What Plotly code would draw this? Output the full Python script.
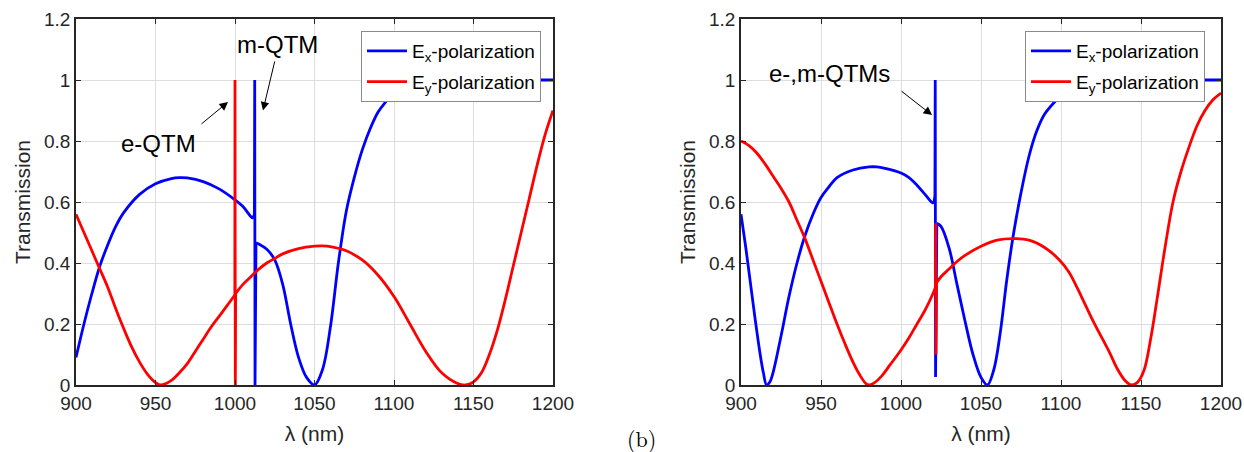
import plotly.graph_objects as go

# ---------------- data ----------------
# Panel (a) - left
a_ex_wl = [900, 905, 910, 915, 920, 925, 930, 940, 950, 960, 965, 970, 980, 990, 1000, 1005, 1010, 1011,
           1012.2, 1012.4, 1012.6, 1013.2, 1015, 1020, 1025, 1030, 1035, 1040, 1045, 1050, 1055, 1060, 1065,
           1070, 1075, 1080, 1085, 1090, 1095, 1100, 1105, 1110, 1120, 1140, 1170, 1200]
a_ex_t = [0.09, 0.20, 0.30, 0.39, 0.46, 0.52, 0.565, 0.625, 0.66, 0.677, 0.68, 0.679, 0.667, 0.643, 0.607, 0.585,
          0.552, 0.548, 0.56, 1.0, 0.0, 0.466, 0.462, 0.445, 0.41, 0.33, 0.20, 0.09, 0.025, 0.0, 0.05, 0.19, 0.40,
          0.57, 0.68, 0.77, 0.84, 0.895, 0.93, 0.96, 0.98, 0.99, 1.0, 1.0, 1.0, 1.0]

a_ey_wl = [900, 905, 910, 915, 920, 925, 930, 935, 940, 945, 950, 953, 957, 960, 965, 970, 975, 980, 985, 990,
           995, 999.9, 1000, 1000.2, 1000.4, 1005, 1010, 1015, 1020, 1025, 1030, 1040, 1050, 1055, 1060, 1070,
           1080, 1090, 1100, 1110, 1120, 1130, 1140, 1145, 1150, 1155, 1160, 1165, 1170, 1175, 1180, 1185, 1190,
           1195, 1200]
a_ey_t = [0.56, 0.50, 0.44, 0.38, 0.32, 0.25, 0.185, 0.125, 0.075, 0.035, 0.008, 0.0, 0.006, 0.015, 0.04, 0.07,
          0.11, 0.15, 0.19, 0.225, 0.26, 0.295, 1.0, 0.0, 0.30, 0.33, 0.355, 0.38, 0.40, 0.415, 0.43, 0.447, 0.455,
          0.456, 0.454, 0.44, 0.41, 0.36, 0.29, 0.20, 0.11, 0.04, 0.005, 0.0, 0.01, 0.04, 0.10, 0.18, 0.28, 0.39,
          0.50, 0.61, 0.72, 0.82, 0.90]

# Panel (b) - right
b_ex_wl = [900, 903, 906, 909, 912, 914, 916, 918, 920, 925, 930, 935, 940, 945, 950, 955, 960, 970, 980, 985,
           990, 1000, 1005, 1010, 1015, 1019, 1020, 1021.2, 1021.4, 1021.6, 1022.4, 1025, 1030, 1035, 1040,
           1045, 1050, 1054, 1058, 1062, 1066, 1070, 1075, 1080, 1085, 1090, 1100, 1105, 1110, 1120, 1140,
           1170, 1200]
b_ex_t = [0.56, 0.45, 0.33, 0.21, 0.10, 0.04, 0.0, 0.01, 0.04, 0.16, 0.29, 0.40, 0.49, 0.56, 0.615, 0.65, 0.68,
          0.705, 0.715, 0.715, 0.71, 0.695, 0.68, 0.655, 0.625, 0.60, 0.597, 0.62, 1.0, 0.026, 0.53, 0.52, 0.45,
          0.33, 0.21, 0.10, 0.025, 0.0, 0.05, 0.17, 0.34, 0.485, 0.63, 0.75, 0.835, 0.89, 0.95, 0.975,
          0.99, 1.0, 1.0, 1.0, 1.0]

b_ey_wl = [900, 905, 910, 915, 920, 925, 930, 935, 940, 945, 950, 955, 960, 965, 970, 974, 978, 980, 983, 988,
           993, 1000, 1005, 1010, 1015, 1020, 1021.5, 1021.7, 1021.9, 1022.2, 1025, 1030, 1035, 1040, 1050, 1060,
           1070, 1080, 1090, 1099, 1105, 1110, 1115, 1120, 1130, 1135, 1140, 1144, 1148, 1152, 1156, 1160, 1165,
           1170, 1175, 1180, 1185, 1190, 1195, 1200]
b_ey_t = [0.80, 0.785, 0.76, 0.725, 0.685, 0.645, 0.60, 0.54, 0.48, 0.41, 0.34, 0.27, 0.20, 0.135, 0.075, 0.035,
          0.005, 0.0, 0.006, 0.03, 0.065, 0.115, 0.155, 0.2, 0.245, 0.30, 0.32, 0.53, 0.1, 0.335, 0.355, 0.38,
          0.405, 0.425, 0.455, 0.475, 0.48, 0.475, 0.45, 0.41, 0.37, 0.32, 0.265, 0.21, 0.11, 0.055, 0.015, 0.0,
          0.01, 0.05, 0.15, 0.28, 0.45, 0.6, 0.7, 0.78, 0.85, 0.9, 0.935, 0.957]

x_ticks = [900, 950, 1000, 1050, 1100, 1150, 1200]
y_ticks = [0, 0.2, 0.4, 0.6, 0.8, 1.0, 1.2]
y_tick_text = ["0", "0.2", "0.4", "0.6", "0.8", "1", "1.2"]
series_names = ["E<sub>x</sub>-polarization", "E<sub>y</sub>-polarization"]
series_colors = ["#0000ff", "#ff0000"]

# ---------------- figure ----------------
W, H = 1244, 452
FONT = "Liberation Sans, Arial, Helvetica, sans-serif"
AX = "#262626"
LW = 2.8


def split_runs(wl, t, gap=1.0):
    """Split a series into smooth parts and the narrow resonance spike (closely spaced samples)."""
    n = len(wl)
    sharp = [False] * n
    for i in range(n - 1):
        if wl[i + 1] - wl[i] < gap:
            sharp[i] = sharp[i + 1] = True
    idx = [i for i in range(n) if sharp[i]]
    if not idx:
        return [(wl, t, "spline")]
    i0, i1 = idx[0], idx[-1]
    return [(wl[:i0 + 1], t[:i0 + 1], "spline"),
            (wl[i0:i1 + 1], t[i0:i1 + 1], "linear"),
            (wl[i1:], t[i1:], "spline")]


fig = go.Figure()


def add_series(wl, t, k, xa, ya, leg):
    for j, (xs, ys, shape) in enumerate(split_runs(wl, t)):
        fig.add_trace(go.Scatter(
            x=xs, y=ys, mode="lines", name=series_names[k], legendgroup=f"{leg}{k}",
            showlegend=(j == 0), line=dict(color=series_colors[k], width=LW, shape=shape, smoothing=1.0),
            xaxis=xa, yaxis=ya, legend=leg, hoverinfo="skip"))


add_series(a_ex_wl, a_ex_t, 0, "x", "y", "legend")
add_series(b_ex_wl, b_ex_t, 0, "x2", "y2", "legend2")
add_series(a_ey_wl, a_ey_t, 1, "x", "y", "legend")
add_series(b_ey_wl, b_ey_t, 1, "x2", "y2", "legend2")

ybot, ytop = 1 - 385 / H, 1 - 19 / H


def xax(domain, anchor):
    return dict(domain=domain, anchor=anchor, range=[900, 1200], tickvals=x_ticks, automargin=False,
                ticks="inside", ticklen=5, tickcolor=AX, showline=True, linecolor=AX, linewidth=1.5,
                mirror="ticks", showgrid=True, gridcolor="#dedede", gridwidth=1, zeroline=False,
                tickfont=dict(family=FONT, size=19, color=AX),
                title=dict(text="λ (nm)", font=dict(family=FONT, size=21, color=AX), standoff=14))


def yax(anchor):
    return dict(domain=[ybot, ytop], anchor=anchor, range=[0, 1.2], tickvals=y_ticks, ticktext=y_tick_text,
                automargin=False,
                ticks="inside", ticklen=5, tickcolor=AX, showline=True, linecolor=AX, linewidth=1.5,
                mirror="ticks", showgrid=True, gridcolor="#dedede", gridwidth=1, zeroline=False,
                tickfont=dict(family=FONT, size=19, color=AX),
                title=dict(text="Transmission", font=dict(family=FONT, size=21, color=AX), standoff=8))


def legend(xleft):
    return dict(x=xleft, y=1 - 31 / H, xanchor="left", yanchor="top", bgcolor="white",
                bordercolor="#8a8a8a", borderwidth=1, font=dict(family=FONT, size=19, color="black"),
                itemwidth=40, tracegroupgap=3, traceorder="grouped")


fig.update_layout(
    width=W, height=H, margin=dict(l=0, r=0, t=0, b=0, autoexpand=False),
    paper_bgcolor="white", plot_bgcolor="white",
    xaxis=xax([76 / W, 553 / W], "y"), yaxis=yax("x"),
    xaxis2=xax([741 / W, 1221 / W], "y2"), yaxis2=yax("x2"),
    legend=legend(361 / W), legend2=legend(1025 / W),
)

ann_font = dict(family=FONT, size=24, color="black")
anns = [
    # left panel
    dict(x=1027, y=1.115, xref="x", yref="y", text="m-QTM", showarrow=False, font=ann_font),
    dict(x=1017.6, y=0.90, ax=1025.2, ay=1.066, xref="x", yref="y", axref="x", ayref="y", text="",
         showarrow=True, arrowhead=2, arrowsize=1.7, arrowwidth=1, arrowcolor="black"),
    dict(x=951.6, y=0.793, xref="x", yref="y", text="e-QTM", showarrow=False, font=ann_font),
    dict(x=995.6, y=0.928, ax=978, ay=0.852, xref="x", yref="y", axref="x", ayref="y", text="",
         showarrow=True, arrowhead=2, arrowsize=1.7, arrowwidth=1, arrowcolor="black"),
    # right panel
    dict(x=955, y=1.022, xref="x2", yref="y2", text="e-,m-QTMs", showarrow=False, font=ann_font),
    dict(x=1019.4, y=0.885, ax=999.4, ay=0.967, xref="x2", yref="y2", axref="x2", ayref="y2", text="",
         showarrow=True, arrowhead=2, arrowsize=1.7, arrowwidth=1, arrowcolor="black"),
    # panel label
    dict(x=642 / W, y=1 - 437 / H, xref="paper", yref="paper", xanchor="center", yanchor="middle",
         text="(b)", showarrow=False,
         font=dict(family="Latin Modern Roman, DejaVu Serif, Liberation Serif, serif", size=22, color="black")),
]
fig.update_layout(annotations=anns)

fig.write_html("out.html", config={"displayModeBar": False},
               post_script="document.body.style.margin='0';document.body.style.overflow='hidden';")
